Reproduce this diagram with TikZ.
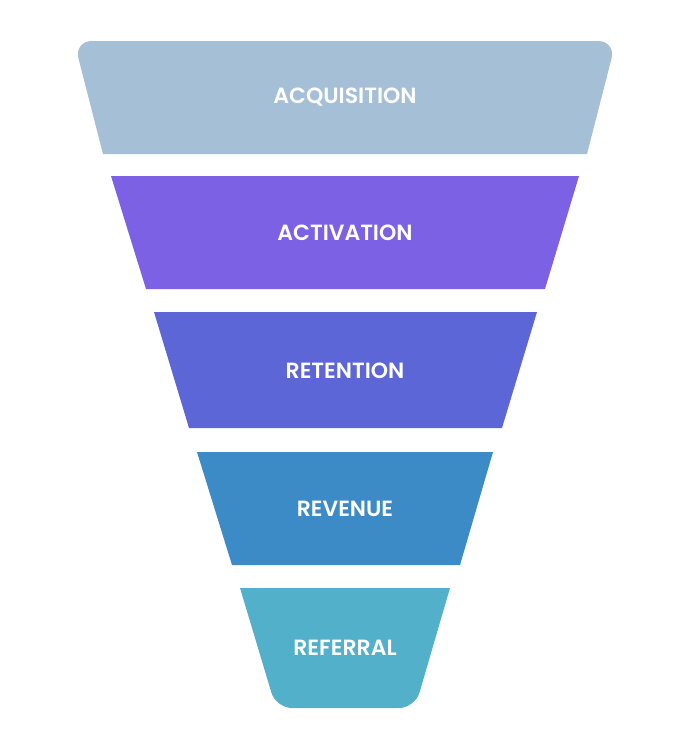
\documentclass[tikz,border=0pt]{standalone}
\usepackage{fontspec}
\setmainfont{Poppins}[BoldFont={Poppins SemiBold}]
\usepackage{xcolor}
\usepackage{tikz}
\usetikzlibrary{positioning}

\begin{document}
\begin{tikzpicture}[x=1pt,y=-1pt]
    \definecolor{myacq}{RGB}{165,191,214}
    \definecolor{myact}{RGB}{124,97,228}
    \definecolor{myret}{RGB}{92,102,214}
    \definecolor{myrev}{RGB}{60,138,198}
    \definecolor{myref}{RGB}{83,176,203}

    \tikzstyle{label}=[text=white,font=\fontsize{22pt}{26pt}\selectfont\bfseries]  % 层上的文字
    \tikzstyle{layer}=[draw=none]  % 漏斗的每一层

    \useasboundingbox (0,0) rectangle (695,750);

    % 画漏斗各层
    \fill[layer,myacq] (103,154) [rounded corners=18pt] -- (74,41) -- (616,41) [sharp corners] -- (587,154) -- cycle;
    \fill[layer,myact] (146,289) -- (111,176) -- (579,176) -- (545,289) -- cycle;
    \fill[layer,myret] (189,428) -- (154,312) -- (537,312) -- (502,428) -- cycle;
    \fill[layer,myrev] (232,565) -- (197,452) -- (493,452) -- (460,565) -- cycle;
    \fill[layer,myref] (240,588) -- (450,588) [rounded corners=16pt] -- (415,708) -- (276,708) [sharp corners] -- cycle;

    % 各层文字
    \node[label](acq) at (345,97){ACQUISITION};
    \node[label](act) at (345,233){ACTIVATION};
    \node[label](ret) at (345,371){RETENTION};
    \node[label](rev) at (345,509){REVENUE};
    \node[label](ref) at (345,648){REFERRAL};
\end{tikzpicture}
\end{document}
